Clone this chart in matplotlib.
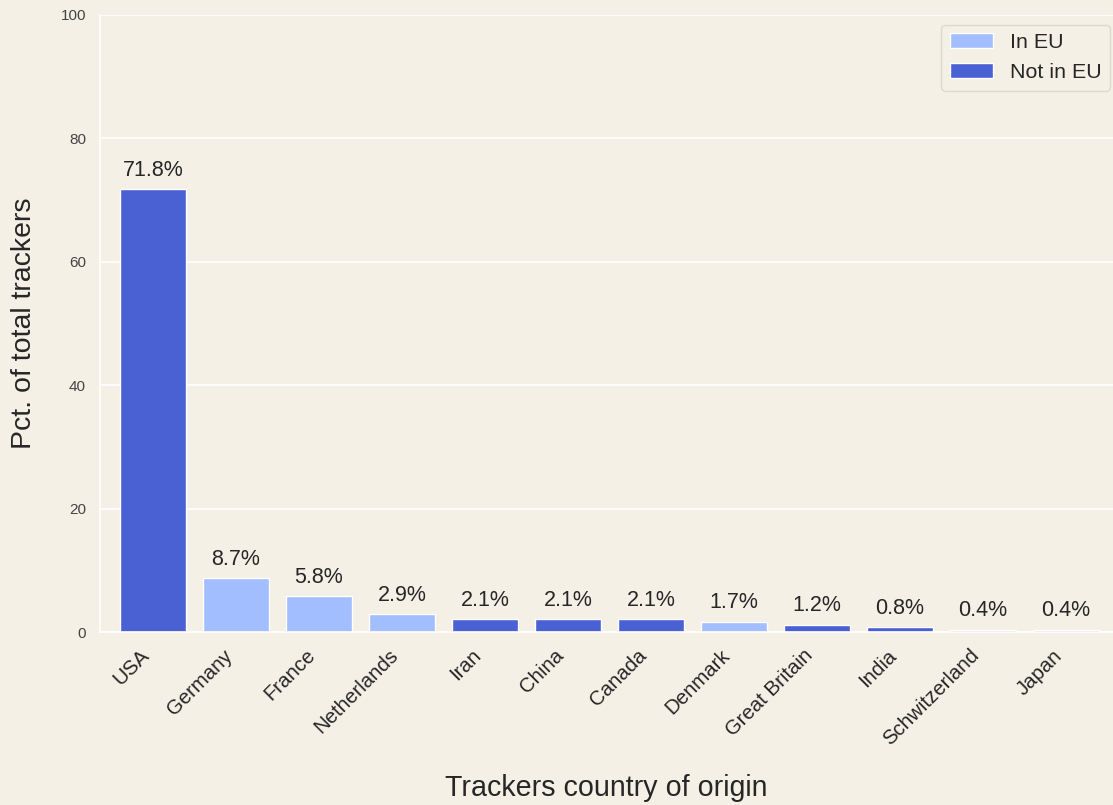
import matplotlib

matplotlib.use("Agg")
import matplotlib.pyplot as plt
from matplotlib.patches import Patch

countries = ["USA", "Germany", "France", "Netherlands", "Iran", "China", "Canada",
             "Denmark", "Great Britain", "India", "Schwitzerland", "Japan"]
pct = [71.8, 8.7, 5.8, 2.9, 2.1, 2.1, 2.1, 1.7, 1.2, 0.8, 0.4, 0.4]
in_eu = [False, True, True, True, False, False, False, True, False, False, False, False]

BG = "#F4F0E6"
EU_COLOR = "#A3BEFF"
NON_EU_COLOR = "#4A61D4"
TEXT = "#262626"

plt.rcParams["font.family"] = ["Liberation Sans", "DejaVu Sans"]

fig = plt.figure(figsize=(11.13, 8.05), dpi=100, facecolor=BG)
ax = fig.add_axes([100 / 1113, 1 - 632 / 805, 1 - 100 / 1113, (632 - 15) / 805])
ax.set_facecolor(BG)

colors = [EU_COLOR if eu else NON_EU_COLOR for eu in in_eu]
x = range(len(countries))
bars = ax.bar(x, pct, width=0.8, color=colors, edgecolor="white", linewidth=1.0, zorder=2)

for rect, val in zip(bars, pct):
    ax.annotate(f"{val}%", (rect.get_x() + rect.get_width() / 2, rect.get_height()),
                xytext=(0, 6), textcoords="offset points", ha="center", va="bottom",
                fontsize=15.5, color=TEXT)

ax.set_ylim(0, 100)
ax.set_xlim(-0.64, 11.57)
ax.set_yticks([0, 20, 40, 60, 80, 100])
ax.yaxis.grid(True, color="white", linewidth=1.2, zorder=0)
ax.xaxis.grid(False)
ax.set_axisbelow(True)
for side, spine in ax.spines.items():
    spine.set_color("white")
    spine.set_linewidth(1.2)
    if side in ("top", "right"):
        spine.set_visible(False)

ax.set_xticks(list(x))
ax.set_xticklabels(countries, rotation=45, ha="right", fontsize=14.7, color=TEXT)
ax.tick_params(axis="y", labelsize=11, colors="#444444", length=0, pad=10)
ax.tick_params(axis="x", length=0, pad=10)

ax.set_ylabel("Pct. of total trackers", fontsize=20.5, color=TEXT, labelpad=17)
ax.set_xlabel("Trackers country of origin", fontsize=20.6, color=TEXT, labelpad=18)

handles = [Patch(facecolor=EU_COLOR, edgecolor="white", label="In EU"),
           Patch(facecolor=NON_EU_COLOR, edgecolor="white", label="Not in EU")]
leg = ax.legend(handles=handles, loc="upper right", fontsize=15.4, frameon=True,
                facecolor=BG, edgecolor="#D8D4CC", borderaxespad=0,
                bbox_to_anchor=(0.997, 0.984))
for t in leg.get_texts():
    t.set_color(TEXT)

fig.savefig("out.png", dpi=100, facecolor=BG)
